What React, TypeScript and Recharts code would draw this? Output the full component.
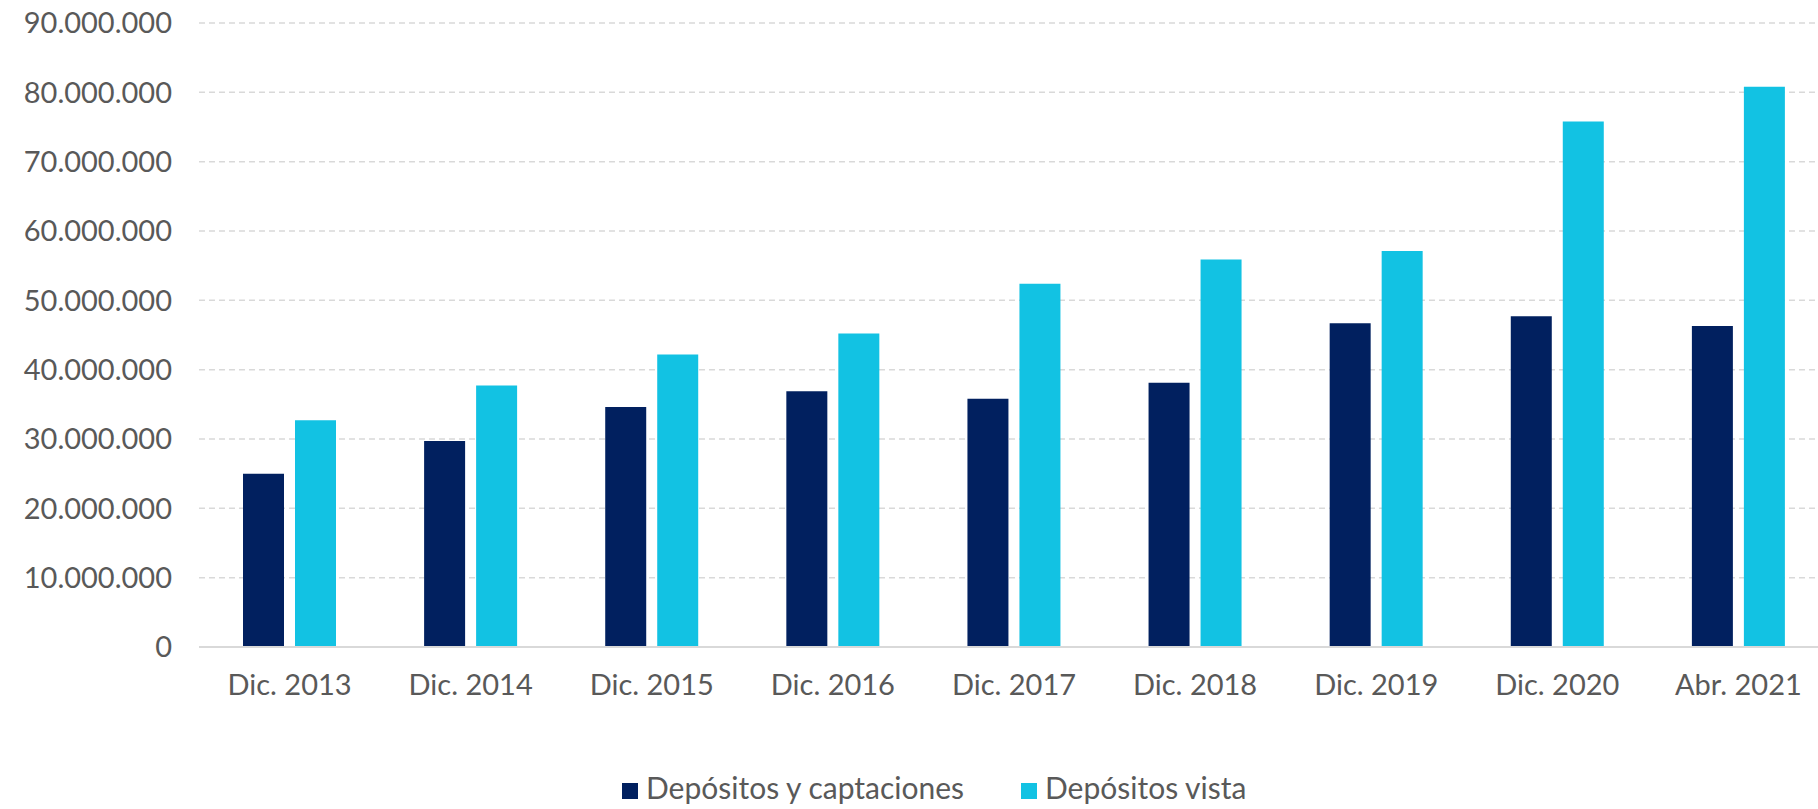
import { Bar, BarChart, CartesianGrid, Legend, XAxis, YAxis } from "recharts"

const CATEGORIES = [
  "Dic. 2013",
  "Dic. 2014",
  "Dic. 2015",
  "Dic. 2016",
  "Dic. 2017",
  "Dic. 2018",
  "Dic. 2019",
  "Dic. 2020",
  "Abr. 2021",
]

// values in pesos
const DEPOSITOS_CAPTACIONES = [
  25000000, 29700000, 34600000, 36900000, 35800000, 38100000, 46700000, 47700000, 46300000,
]
const DEPOSITOS_VISTA = [
  32700000, 37700000, 42200000, 45200000, 52400000, 55900000, 57100000, 75800000, 80800000,
]

const SERIES = ["Depósitos y captaciones", "Depósitos vista"]

const Y_TICKS = [0, 10000000, 20000000, 30000000, 40000000, 50000000, 60000000, 70000000, 80000000, 90000000]

const COLORS = {
  captaciones: "#01205F",
  vista: "#12C2E3",
  text: "#595959",
  grid: "#D9D9D9",
}

const FONT = "Lato, 'Noto Sans', sans-serif"

const fmt = (v: number) => String(Math.round(v)).replace(/\B(?=(\d{3})+(?!\d))/g, ".")

const rows = CATEGORIES.map((name, i) => ({
  name,
  captaciones: DEPOSITOS_CAPTACIONES[i],
  vista: DEPOSITOS_VISTA[i],
}))

function LegendContent({ payload }: any) {
  const items = [...(payload || [])].sort((a: any, b: any) => SERIES.indexOf(a.value) - SERIES.indexOf(b.value))
  return (
    <div style={{ display: "flex", alignItems: "baseline", fontFamily: FONT, fontSize: 30, color: COLORS.text, lineHeight: "36px" }}>
      {items.map((p: any, i: number) => (
        <div key={i} style={{ display: "flex", alignItems: "baseline", width: i === 0 ? 399 : "auto" }}>
          <span style={{ display: "inline-block", width: 16, height: 16, background: p.color, marginRight: 8 }} />
          <span>{p.value}</span>
        </div>
      ))}
    </div>
  )
}

export default function App() {
  return (
    <div style={{ position: "absolute", left: 0, top: 0, width: 1818, height: 809, overflow: "hidden", background: "#fff" }}>
      <BarChart
        width={1840}
        height={809}
        data={rows}
        margin={{ left: 0, right: 11, top: 23, bottom: 102 }}
        barGap={11}
        barSize={41}
      >
        <CartesianGrid vertical={false} stroke={COLORS.grid} strokeWidth={1.5} strokeDasharray="6 4" />
        <XAxis
          dataKey="name"
          height={60}
          tickLine={false}
          tickMargin={21}
          axisLine={{ stroke: COLORS.grid, strokeWidth: 2 }}
          tick={{ fontSize: 29, fill: COLORS.text, fontFamily: FONT }}
          interval={0}
        />
        <YAxis
          width={199}
          domain={[0, 90000000]}
          ticks={Y_TICKS}
          tickFormatter={fmt}
          axisLine={false}
          tickLine={false}
          tickSize={0}
          tickMargin={27}
          tick={{ fontSize: 29, fill: COLORS.text, fontFamily: FONT }}
        />
        <Legend
          layout="horizontal"
          verticalAlign="middle"
          align="center"
          content={<LegendContent />}
          wrapperStyle={{ position: "absolute", top: 769, left: 622, width: "auto" }}
        />
        <Bar dataKey="captaciones" name={SERIES[0]} fill={COLORS.captaciones} isAnimationActive={false} />
        <Bar dataKey="vista" name={SERIES[1]} fill={COLORS.vista} isAnimationActive={false} />
      </BarChart>
    </div>
  )
}
